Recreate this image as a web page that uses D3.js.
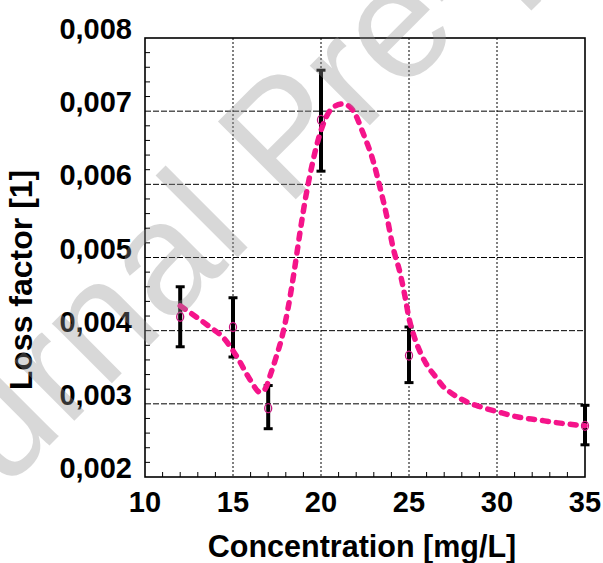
<!DOCTYPE html>
<html>
<head>
<meta charset="utf-8">
<script src="https://cdn.jsdelivr.net/npm/d3@7"></script>
<style>
  html, body { margin: 0; padding: 0; background: #fff; }
  svg { display: block; }
  text { font-family: "Liberation Sans", Arial, sans-serif; }
</style>
</head>
<body>
<svg id="chart" width="603" height="563"></svg>
<script>
// measured points (mean with error bar limits)
const concX = [12, 15, 17, 20, 25, 35];
const lossMean = [0.00419, 0.00405, 0.00294, 0.00688, 0.00366, 0.0027];
const lossUpper = [0.0046, 0.00445, 0.00325, 0.00756, 0.00405, 0.00298];
const lossLower = [0.00378, 0.00364, 0.00266, 0.00618, 0.00329, 0.00244];

// fitted curve
const fitX = [12, 13.69, 14.43, 15.23, 15.97, 16.53, 16.82, 17.1, 17.44, 17.78, 18.13, 18.47,
  18.81, 19.15, 19.49, 19.83, 20.17, 20.68, 21.25, 21.82, 22.39, 22.95, 23.35, 23.75, 24.09,
  24.49, 24.77, 25.0, 25.28, 25.63, 26.02, 26.48, 26.93, 27.33, 27.78, 28.35, 28.92, 30.06,
  31.19, 32.33, 33.47, 35];
const fitY = [0.00434, 0.00405, 0.00391, 0.00364, 0.00333, 0.00316, 0.0032, 0.00338, 0.00363,
  0.00391, 0.00431, 0.0048, 0.00535, 0.00585, 0.00626, 0.0066, 0.00685, 0.00705, 0.0071,
  0.00701, 0.0067, 0.00633, 0.00596, 0.00555, 0.00514, 0.00479, 0.00447, 0.00417, 0.00393,
  0.00371, 0.00353, 0.00338, 0.00324, 0.00316, 0.00309, 0.00302, 0.00297, 0.00289, 0.00282,
  0.00278, 0.00274, 0.0027];

const xTicks = [10, 15, 20, 25, 30, 35];
const yTicks = [0.002, 0.003, 0.004, 0.005, 0.006, 0.007, 0.008];

const plotL = 145, plotR = 585, plotT = 38, plotB = 477;

const svg = d3.select("#chart");
svg.append("rect").attr("width", 603).attr("height", 563).attr("fill", "#fff");

const x = d3.scaleLinear().domain([10, 35]).range([plotL, plotR]);
const y = d3.scaleLinear().domain([0.002, 0.008]).range([plotB, plotT]);
const fmtY = d => d3.format(".3f")(d).replace(".", ",");

// grid
svg.append("g").selectAll("line")
  .data(xTicks.slice(1, -1))
  .join("line")
  .attr("x1", d => x(d)).attr("x2", d => x(d))
  .attr("y1", plotT).attr("y2", plotB)
  .attr("stroke", "#000").attr("stroke-width", 1)
  .attr("stroke-dasharray", "2,2");

svg.append("g").selectAll("line")
  .data(yTicks.slice(1, -1))
  .join("line")
  .attr("x1", plotL).attr("x2", plotR)
  .attr("y1", d => y(d)).attr("y2", d => y(d))
  .attr("stroke", "#000").attr("stroke-width", 1)
  .attr("stroke-dasharray", "6,2");

// minor ticks, pointing inward
const xMinor = d3.range(11, 35, 1).filter(v => v % 5 !== 0);
svg.append("g").selectAll("line")
  .data(xMinor)
  .join("line")
  .attr("x1", d => x(d)).attr("x2", d => x(d))
  .attr("y1", plotB).attr("y2", plotB - 5)
  .attr("stroke", "#000").attr("stroke-width", 1);

const yMinor = d3.range(1, 30).filter(i => i % 5 !== 0).map(i => 0.002 + i * 0.0002);
svg.append("g").selectAll("line")
  .data(yMinor)
  .join("line")
  .attr("x1", plotL).attr("x2", plotL + 5)
  .attr("y1", d => y(d)).attr("y2", d => y(d))
  .attr("stroke", "#000").attr("stroke-width", 1);

// frame
svg.append("rect")
  .attr("x", plotL).attr("y", plotT)
  .attr("width", plotR - plotL).attr("height", plotB - plotT)
  .attr("fill", "none").attr("stroke", "#000").attr("stroke-width", 1.6);

// tick labels
svg.append("g").selectAll("text")
  .data(xTicks)
  .join("text")
  .attr("x", d => x(d)).attr("y", 512)
  .attr("text-anchor", "middle")
  .attr("font-size", "29px").attr("font-weight", "bold")
  .text(d => d);

svg.append("g").selectAll("text")
  .data(yTicks)
  .join("text")
  .attr("x", 132).attr("y", d => y(d) + 1)
  .attr("text-anchor", "end")
  .attr("font-size", "29px").attr("font-weight", "bold")
  .text(fmtY);

// axis titles
svg.append("text")
  .attr("x", 362).attr("y", 557)
  .attr("text-anchor", "middle")
  .attr("font-size", "30.5px").attr("font-weight", "bold")
  .text("Concentration [mg/L]");

svg.append("text")
  .attr("transform", "translate(32,280) rotate(-90)")
  .attr("text-anchor", "middle")
  .attr("font-size", "32px").attr("font-weight", "bold")
  .text("Loss factor [1]");

// error bars
const bars = svg.append("g");
concX.forEach((c, i) => {
  bars.append("line")
    .attr("x1", x(c)).attr("x2", x(c))
    .attr("y1", y(lossUpper[i])).attr("y2", y(lossLower[i]))
    .attr("stroke", "#000").attr("stroke-width", 4);
  [lossUpper[i], lossLower[i]].forEach(v => {
    bars.append("line")
      .attr("x1", x(c) - 4.5).attr("x2", x(c) + 4.5)
      .attr("y1", y(v)).attr("y2", y(v))
      .attr("stroke", "#000").attr("stroke-width", 3);
  });
});

// fitted curve
const fitPts = fitX.map((v, i) => [v, fitY[i]]);
svg.append("path")
  .datum(fitPts)
  .attr("d", d3.line().x(d => x(d[0])).y(d => y(d[1])).curve(d3.curveMonotoneX))
  .attr("fill", "none")
  .attr("stroke", "#f5148a")
  .attr("stroke-width", 5.5)
  .attr("stroke-linecap", "round")
  .attr("stroke-dasharray", "6,8");

// markers
svg.append("g").selectAll("ellipse")
  .data(concX)
  .join("ellipse")
  .attr("cx", d => x(d))
  .attr("cy", (d, i) => y(lossMean[i]))
  .attr("rx", 3.5).attr("ry", 4.5)
  .attr("fill", "none")
  .attr("stroke", "#c8157f").attr("stroke-width", 1.3);

// watermark
svg.append("text")
  .attr("transform", "translate(-116,611) rotate(-45)")
  .attr("font-size", "160px")
  .attr("fill", "rgb(146,146,146)")
  .attr("opacity", 0.35)
  .text("Journal Pre-proof");
</script>
</body>
</html>
